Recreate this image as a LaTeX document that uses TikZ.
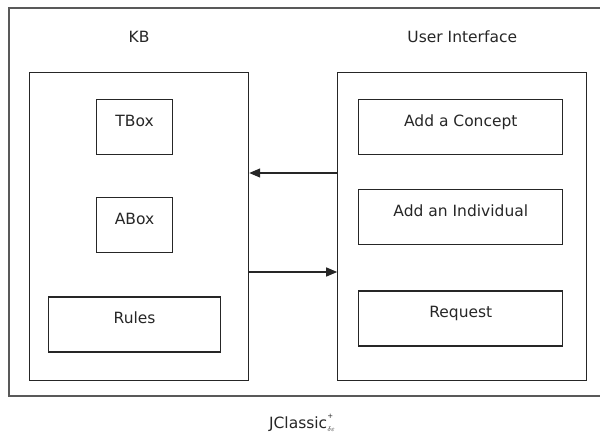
\documentclass[tikz,border=0pt]{standalone}
\usepackage{fontspec}
\setmainfont{DejaVu Sans}
\usetikzlibrary{arrows.meta,positioning}
\tikzset{
  frame/.style={draw=black!65, line width=1.6pt, minimum width=600pt, minimum height=388pt, inner sep=0pt},
  group/.style={draw=black!85, line width=1.2pt, minimum height=308pt, inner sep=0pt},
  part/.style={draw=black!85, line width=1.2pt, inner sep=0pt, text height=26.5pt, text depth=28.5pt},
  title/.style={inner sep=0pt, text=black!85},
  arrow/.style={-{Triangle[length=11pt, width=9pt]}, line width=1.2pt, draw=black!85}
}

\begin{document}
\begin{tikzpicture}[x=1pt, y=-1pt, font=\fontsize{15.5}{18}\selectfont, text=black!85]
  \useasboundingbox (0,0) rectangle (600,434);
  \node[frame, anchor=north west] (sys) at (8,7) {};
  % knowledge base and interface
  \node[group, minimum width=219pt, anchor=north west] (kb) at (29,72) {};
  \node[group, minimum width=249pt, right=88pt of kb] (ui) {};
  \node[title, above=30pt of kb.north, anchor=base] (kbname) {KB};
  \node[title, above=30pt of ui.north, anchor=base] (uiname) {User Interface};
  % contents of the KB
  \node[part, minimum width=76pt, below=27pt of kb.north, xshift=-4.5pt] (tbox) {TBox};
  \node[part, minimum width=76pt, below=42pt of tbox] (abox) {ABox};
  \node[part, minimum width=172pt, below=43pt of abox] (rules) {Rules};
  % interface actions
  \node[part, minimum width=204pt, below=27pt of ui.north, xshift=-1.5pt] (concept) {Add a Concept};
  \node[part, minimum width=204pt, below=34pt of concept] (individual) {Add an Individual};
  \node[part, minimum width=204pt, below=45pt of individual] (request) {Request};
  \draw[arrow] ([yshift=-101pt]ui.north west) -- ([yshift=-101pt]kb.north east);
  \draw[arrow] ([yshift=-200pt]kb.north east) -- ([yshift=-200pt]ui.north west);
  \node[title, anchor=base] (sysname) at (302,428)
    {JClassic\rlap{\raisebox{10pt}{\fontsize{7}{8}\selectfont +}}\raisebox{-3pt}{\fontsize{7}{8}\selectfont$\delta\varepsilon$}};
\end{tikzpicture}
\end{document}
